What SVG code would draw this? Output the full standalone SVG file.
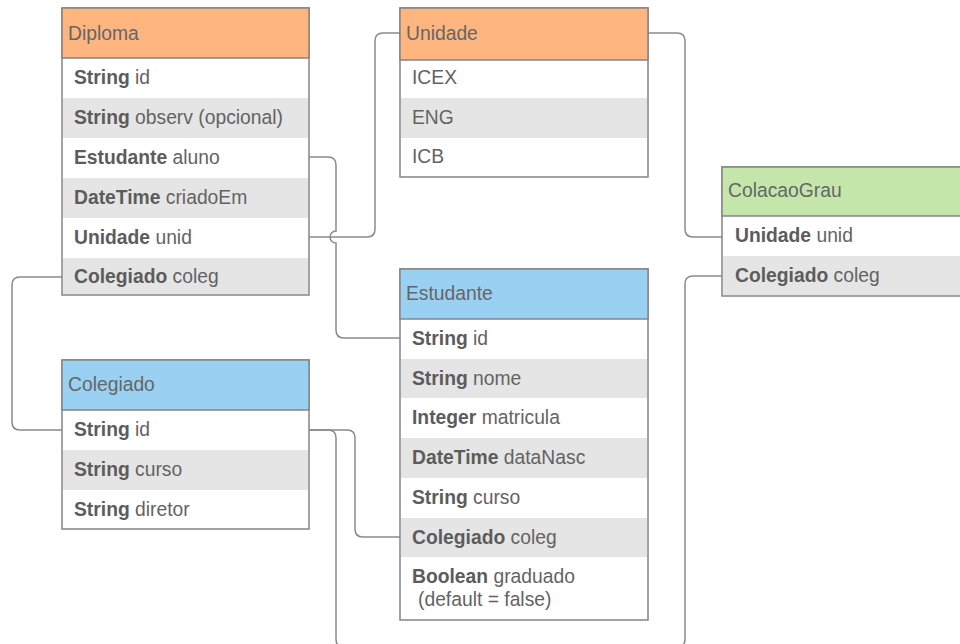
<svg xmlns="http://www.w3.org/2000/svg" width="960" height="644" viewBox="0 0 960 644">
<style>
.box{fill:#ffffff;stroke:#858585;stroke-width:1.5}
.hdr{stroke:#858585;stroke-width:1.5}
.org{fill:#ffb57f}
.blu{fill:#9ad1f2}
.grn{fill:#c5e6aa}
.alt{fill:#e5e5e5}
text{font-family:"Liberation Sans",Arial,sans-serif;font-size:19.3px;fill:#636363}
.b{font-weight:bold;fill:#5c5c5c}
.ht{fill:#666666}
.conn{fill:none;stroke:#8a8a8a;stroke-width:1.5}
</style>
<g id="connectors">
<path class="conn" d="M309,157 H328 Q336,157 336,165 V231 A6,6 0 0 0 336,243 V330 Q336,338 344,338 H400"/>
<path class="conn" d="M309,237 H367 Q375,237 375,229 V41 Q375,33 383,33 H400"/>
<path class="conn" d="M648,33 H677 Q685,33 685,41 V229 Q685,237 693,237 H722"/>
<path class="conn" d="M722,276 H693 Q685,276 685,284 V639 Q685,647 677,647 H344 Q336,647 336,639 V438 Q336,430 328,430 H309"/>
<path class="conn" d="M309,430 H347 Q355,430 355,438 V529 Q355,537 363,537 H400"/>
<path class="conn" d="M62,277 H20 Q12,277 12,285 V422 Q12,430 20,430 H62"/>
</g>
<g id="Diploma">
<rect class="box" x="62" y="8" width="247" height="287"/>
<rect class="alt" x="63" y="98" width="245" height="40"/>
<rect class="alt" x="63" y="178" width="245" height="40"/>
<rect class="alt" x="63" y="258" width="245" height="36"/>
<rect class="hdr org" x="62" y="8" width="247" height="50"/>
<text class="ht" x="68" y="39.5">Diploma</text>
<text x="74" y="84"><tspan class="b">String</tspan> id</text>
<text x="74" y="124"><tspan class="b">String</tspan> observ (opcional)</text>
<text x="74" y="164"><tspan class="b">Estudante</tspan> aluno</text>
<text x="74" y="204"><tspan class="b">DateTime</tspan> criadoEm</text>
<text x="74" y="244"><tspan class="b">Unidade</tspan> unid</text>
<text x="74" y="283"><tspan class="b">Colegiado</tspan> coleg</text>
</g>
<g id="Unidade">
<rect class="box" x="400" y="8" width="248" height="169"/>
<rect class="alt" x="401" y="98" width="246" height="40"/>
<rect class="hdr org" x="400" y="8" width="248" height="52"/>
<text class="ht" x="406" y="39.5">Unidade</text>
<text x="412" y="83.5">ICEX</text>
<text x="412" y="123.5">ENG</text>
<text x="412" y="163">ICB</text>
</g>
<g id="ColacaoGrau">
<rect class="box" x="722" y="167" width="245" height="129"/>
<rect class="alt" x="723" y="256" width="244" height="39"/>
<rect class="hdr grn" x="722" y="167" width="245" height="49"/>
<text class="ht" x="728" y="197">ColacaoGrau</text>
<text x="735" y="242"><tspan class="b">Unidade</tspan> unid</text>
<text x="735" y="282"><tspan class="b">Colegiado</tspan> coleg</text>
</g>
<g id="Colegiado">
<rect class="box" x="62" y="360" width="247" height="169"/>
<rect class="alt" x="63" y="450" width="245" height="40"/>
<rect class="hdr blu" x="62" y="360" width="247" height="50"/>
<text class="ht" x="68" y="391">Colegiado</text>
<text x="74" y="436"><tspan class="b">String</tspan> id</text>
<text x="74" y="476"><tspan class="b">String</tspan> curso</text>
<text x="74" y="515.5"><tspan class="b">String</tspan> diretor</text>
</g>
<g id="Estudante">
<rect class="box" x="400" y="269" width="248" height="351"/>
<rect class="alt" x="401" y="359" width="246" height="39"/>
<rect class="alt" x="401" y="438" width="246" height="40"/>
<rect class="alt" x="401" y="518" width="246" height="39"/>
<rect class="hdr blu" x="400" y="269" width="248" height="50"/>
<text class="ht" x="406" y="300">Estudante</text>
<text x="412" y="345"><tspan class="b">String</tspan> id</text>
<text x="412" y="384.5"><tspan class="b">String</tspan> nome</text>
<text x="412" y="424"><tspan class="b">Integer</tspan> matricula</text>
<text x="412" y="464"><tspan class="b">DateTime</tspan> dataNasc</text>
<text x="412" y="504"><tspan class="b">String</tspan> curso</text>
<text x="412" y="543.5"><tspan class="b">Colegiado</tspan> coleg</text>
<text x="412" y="583"><tspan class="b">Boolean</tspan> graduado</text>
<text x="418" y="606">(default = false)</text>
</g>
</svg>
